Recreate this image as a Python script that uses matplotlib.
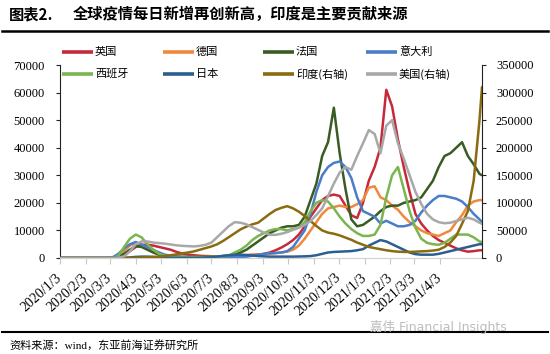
import matplotlib
matplotlib.use('Agg')
import matplotlib.pyplot as plt
from matplotlib.lines import Line2D
import pandas as pd

plt.rcParams['font.family'] = ['Liberation Serif', 'Noto Sans CJK SC']

# ---------------- data ----------------
dates = list(pd.date_range('2020-01-03', periods=73, freq='7D')) + [pd.Timestamp('2021-05-24')]

uk = [0, 0, 0, 0, 0, 0, 0, 0, 0, 0,
      300, 1000, 2500, 4000, 4800, 4800, 4500, 4000, 3500, 3000,
      2200, 1600, 1200, 1000, 800, 700, 650, 600, 650, 700,
      750, 850, 1000, 1100, 1200, 1500, 2000, 2800, 3800, 5000,
      6500, 8500, 11500, 15000, 18000, 21000, 22500, 23000, 22500, 19000,
      15500, 14500, 20000, 28000, 33000, 40000, 61000, 55000, 43000, 33000,
      24000, 16000, 12500, 10000, 8000, 6500, 5500, 4500, 3500, 2800,
      2300, 2500, 2800, 2800]
germany = [0, 0, 0, 0, 0, 0, 0, 0, 0, 0,
           800, 2500, 4500, 5500, 5000, 3500, 2200, 1300, 900, 700,
           500, 400, 400, 400, 400, 400, 400, 500, 500, 500,
           600, 800, 1000, 1200, 1300, 1400, 1500, 1800, 2000, 2300,
           3000, 4500, 7000, 10000, 13000, 16000, 18000, 18500, 19000, 18500,
           18500, 19500, 21000, 25500, 26000, 22000, 21000, 19000, 17500, 15000,
           13000, 11500, 10000, 9000, 8500, 8000, 9000, 10000, 13000, 15500,
           19000, 20500, 21000, 21000]
france = [0, 0, 0, 0, 0, 0, 0, 0, 0, 0,
          300, 1500, 3000, 4300, 4000, 3000, 2000, 1200, 800, 600,
          500, 400, 400, 400, 400, 400, 400, 450, 600, 900,
          1300, 2000, 3000, 4500, 6000, 7500, 9000, 10000, 11000, 11500,
          11500, 12000, 15000, 21000, 27000, 37000, 42000, 54500, 38000, 25000,
          14000, 11500, 12000, 13500, 15000, 17000, 18500, 19000, 19000, 20000,
          20500, 21000, 22000, 25000, 28000, 33000, 37000, 38000, 40000, 42000,
          37000, 34000, 30500, 30000]
italy = [0, 0, 0, 0, 0, 0, 0, 0, 0, 200,
         1500, 3500, 5000, 5800, 4800, 4000, 3000, 2000, 1200, 800,
         500, 350, 300, 250, 200, 200, 200, 200, 250, 300,
         300, 400, 500, 800, 1200, 1500, 1700, 1800, 2000, 2500,
         4000, 7000, 10000, 16000, 24000, 30000, 33000, 34500, 35000, 33000,
         29000, 22000, 17000, 16000, 15000, 12500, 13500, 12500, 11500, 11500,
         12000, 13500, 16500, 19000, 21000, 22500, 22500, 22000, 21500, 20500,
         18500, 16000, 14000, 13000]
spain = [0, 0, 0, 0, 0, 0, 0, 0, 0, 0,
         800, 4000, 7000, 8500, 7500, 5000, 3000, 1500, 800, 500,
         400, 300, 300, 300, 300, 300, 400, 500, 700, 1000,
         2000, 3000, 4500, 6500, 8000, 9000, 10000, 10500, 10500, 10000,
         10500, 11000, 13000, 17000, 20000, 21000, 20500, 18000, 15000, 12500,
         10500, 9000, 8000, 8000, 8500, 12000, 22000, 30000, 33000, 25000,
         17000, 11000, 7000, 5500, 5000, 4800, 5500, 7000, 8500, 8500,
         8500, 7500, 6000, 5800]
japan = [0, 0, 0, 0, 0, 0, 0, 0, 0, 0,
         50, 100, 200, 400, 500, 500, 400, 200, 100, 50,
         50, 50, 50, 50, 100, 200, 300, 500, 800, 1000,
         1200, 1200, 1100, 900, 700, 600, 500, 500, 500, 500,
         500, 550, 600, 700, 1000, 1500, 2000, 2200, 2300, 2400,
         2500, 2800, 3200, 4500, 5500, 6500, 6000, 5000, 4000, 3000,
         2000, 1400, 1200, 1200, 1200, 1500, 2000, 2500, 3000, 3500,
         4000, 4500, 5000, 5000]
india = [0, 0, 0, 0, 0, 0, 0, 0, 0, 0,
         0, 50, 200, 500, 800, 1200, 1800, 2500, 3500, 5000,
         6500, 8500, 10000, 12000, 15000, 18000, 21000, 25000, 31000, 38000,
         45000, 52000, 57000, 61000, 64000, 72000, 80000, 87000, 91000, 94000,
         90000, 84000, 76000, 67000, 58000, 50000, 46000, 44000, 41000, 37000,
         33000, 28000, 24000, 20000, 18000, 16000, 14000, 12500, 11500, 11000,
         11000, 11500, 12000, 12500, 13500, 15000, 20000, 28000, 40000, 62000,
         85000, 140000, 250000, 310000]
usa = [0, 0, 0, 0, 0, 0, 0, 0, 0, 0,
       500, 3000, 12000, 25000, 30000, 30000, 28000, 27000, 26000, 24500,
       23000, 22000, 21500, 21000, 22000, 24000, 28000, 38000, 48000, 58000,
       65000, 64000, 61000, 56000, 51000, 46000, 42000, 42000, 44000, 47000,
       51000, 55000, 60000, 67000, 78000, 90000, 112000, 135000, 155000, 165000,
       160000, 185000, 208000, 232000, 225000, 190000, 240000, 250000, 208000, 180000,
       150000, 120000, 98000, 80000, 70000, 65000, 63000, 64000, 67000, 70000,
       73000, 70000, 64000, 62000]

left_names = ['英国', '德国', '法国', '意大利', '西班牙', '日本']
right_names = ['印度(右轴)', '美国(右轴)']
left_series = [uk, germany, france, italy, spain, japan]
right_series = [india, usa]
colors_left = ['#C62A3A', '#F0893E', '#3A5C24', '#4A7DC9', '#7AB550', '#2B5E91']
colors_right = ['#8A6B0E', '#A8A8A8']

tick_labels = ['2020/1/3', '2020/2/3', '2020/3/3', '2020/4/3', '2020/5/3', '2020/6/3',
               '2020/7/3', '2020/8/3', '2020/9/3', '2020/10/3', '2020/11/3', '2020/12/3',
               '2021/1/3', '2021/2/3', '2021/3/3', '2021/4/3']
left_ticks = [0, 10000, 20000, 30000, 40000, 50000, 60000, 70000]
right_ticks = [0, 50000, 100000, 150000, 200000, 250000, 300000, 350000]

# ---------------- figure ----------------
W, H = 550, 354
fig = plt.figure(figsize=(5.5, 3.54), dpi=100)


def fx(px):
    return px / W


def fy(py):
    return 1 - py / H


ax = fig.add_axes([fx(60), fy(258), fx(482) - fx(60), fy(65) - fy(258)])
ax2 = ax.twinx()

LW = 1.8
for vals, c in zip(left_series, colors_left):
    ax.plot(dates, vals, color=c, lw=LW, solid_joinstyle='round', solid_capstyle='round')
for vals, c in zip(right_series, colors_right):
    ax2.plot(dates, vals, color=c, lw=LW, solid_joinstyle='round', solid_capstyle='round')

ax.set_xlim(pd.Timestamp('2020-01-03'), pd.Timestamp('2021-05-24'))
ax.set_ylim(0, 70000)
ax2.set_ylim(0, 350000)

tick_dates = pd.to_datetime(tick_labels, format='%Y/%m/%d')
ax.set_xticks(tick_dates)
ax.set_xticklabels(tick_labels, rotation=42, ha='right', va='center', rotation_mode='anchor',
                   fontsize=10, family='Liberation Serif')
ax.set_yticks(left_ticks)
ax.set_yticklabels([str(v) for v in left_ticks], fontsize=9, family='Liberation Serif')
ax2.set_yticks(right_ticks)
ax2.set_yticklabels([str(v) for v in right_ticks], fontsize=9, family='Liberation Serif')

for a in (ax, ax2):
    a.spines['top'].set_visible(False)
ax.spines['right'].set_visible(False)
ax2.spines['left'].set_visible(False)
ax2.spines['bottom'].set_visible(False)
ax.spines['bottom'].set_color('#D0D0D0')
ax.spines['left'].set_color('#222222')
ax2.spines['right'].set_color('#222222')
ax.spines['left'].set_linewidth(0.8)
ax2.spines['right'].set_linewidth(0.8)

ax.tick_params(axis='x', colors='#C8C8C8', length=4, width=0.8, labelcolor='black', pad=9)
ax.tick_params(axis='y', length=3, width=0.8, pad=8, colors='#222222', labelcolor='black')
ax2.tick_params(axis='y', length=3, width=0.8, pad=7, colors='#222222', labelcolor='black')

# ---------------- legend (manual layout) ----------------
cjk = ['Noto Sans CJK SC', 'DejaVu Sans']
names = left_names + right_names
cols = colors_left + colors_right
col_x = [62, 163, 263, 366]
row_y = [52, 74]
for i, (nm, c) in enumerate(zip(names, cols)):
    r, k = divmod(i, 4)
    x0 = col_x[k]
    y0 = row_y[r]
    fig.add_artist(Line2D([fx(x0), fx(x0 + 31)], [fy(y0), fy(y0)], color=c, lw=2.6,
                          solid_capstyle='butt'))
    fig.text(fx(x0 + 33), fy(y0), nm, fontsize=8, family=cjk, va='center', ha='left')

# ---------------- title / frame texts ----------------
fig.text(fx(9), fy(14), '图表2.', fontsize=11, fontweight='bold', family=cjk, va='center')
fig.text(fx(73), fy(14), '全球疫情每日新增再创新高，印度是主要贡献来源', fontsize=11,
         fontweight='bold', family=cjk, va='center')
fig.add_artist(Line2D([fx(2), fx(548)], [fy(31), fy(31)], color='black', lw=1.8))
fig.add_artist(Line2D([fx(2), fx(548)], [fy(332), fy(332)], color='black', lw=1.5))
fig.text(fx(9), fy(345), '资料来源：wind，东亚前海证券研究所', fontsize=8,
         family=['Liberation Serif', 'Noto Sans CJK SC'], va='center')
fig.text(fx(370), fy(327), '嘉伟 Financial Insights', fontsize=9, color='#BDBDBD',
         family=['DejaVu Sans', 'Noto Sans CJK SC'], va='center')

fig.savefig('out.png', dpi=100)
